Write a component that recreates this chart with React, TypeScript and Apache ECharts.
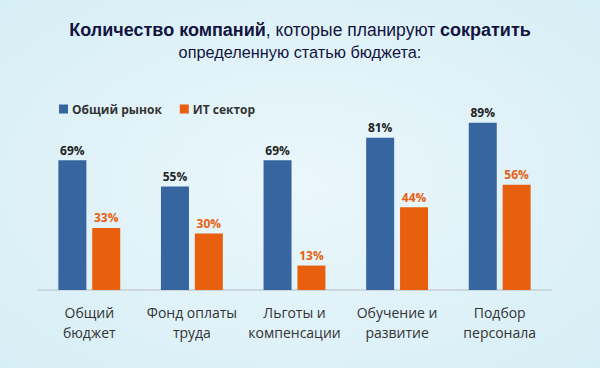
import React, { useEffect, useRef } from "react";
import * as echarts from "echarts";

const categories = [
  "Общий\nбюджет",
  "Фонд оплаты\nтруда",
  "Льготы и\nкомпенсации",
  "Обучение и\nразвитие",
  "Подбор\nперсонала",
];
const seriesNames = ["Общий рынок", "ИТ сектор"];
const marketValues = [69, 55, 69, 81, 89];
const itValues = [33, 30, 13, 44, 56];

export default function App() {
  const ref = useRef<HTMLDivElement>(null);
  useEffect(() => {
    if (!ref.current) return;
    const chart = echarts.init(ref.current, undefined, { renderer: "svg" });
    const font = "'Open Sans', 'Noto Sans', sans-serif";
    const tfont = "'Liberation Sans', Arial, sans-serif";
    chart.setOption({
      animation: false,
      backgroundColor: {
        type: "radial",
        x: 0.5,
        y: 0.5,
        r: 0.8,
        colorStops: [
          { offset: 0, color: "#eaf7fb" },
          { offset: 1, color: "#d4edf5" },
        ],
      },
      title: [
        {
          text: "{b|Количество компаний}{n|, которые планируют }{b|сократить}",
          left: "center",
          top: 16,
          textStyle: {
            rich: {
              b: { fontFamily: tfont, fontSize: 18, fontWeight: "bold", color: "#13143f" },
              n: { fontFamily: tfont, fontSize: 17.5, fontWeight: "normal", color: "#13143f" },
            },
          },
        },
        {
          text: "определенную статью бюджета:",
          left: "center",
          top: 39,
          textStyle: { fontFamily: tfont, fontSize: 16.3, fontWeight: "normal", color: "#13143f" },
        },
      ],
      legend: {
        data: seriesNames,
        left: 54,
        top: 98,
        icon: "rect",
        itemWidth: 9,
        itemHeight: 9,
        itemGap: 18,
        textStyle: { fontFamily: font, fontSize: 12, fontWeight: "bold", color: "#333", padding: [0, 0, 0, -1] },
      },
      grid: { left: 38, right: 49, top: 102, bottom: 78, containLabel: false },
      xAxis: {
        type: "category",
        data: categories,
        axisLine: { lineStyle: { color: "#c5ced3", width: 1.5 } },
        axisTick: { show: false },
        axisLabel: { fontFamily: font, fontSize: 14, color: "#333", lineHeight: 20, margin: 12, interval: 0 },
      },
      yAxis: { type: "value", min: 0, max: 100, show: false, splitLine: { show: false } },
      series: [
        {
          name: seriesNames[0],
          type: "bar",
          data: marketValues,
          barWidth: 28,
          barGap: "21%",
          itemStyle: { color: "#3765a0" },
          label: { show: true, position: "top", distance: 4, formatter: "{c}%", fontFamily: font, fontSize: 12, fontWeight: "bold", color: "#222" },
        },
        {
          name: seriesNames[1],
          type: "bar",
          data: itValues,
          barWidth: 28,
          itemStyle: { color: "#e8600e" },
          label: { show: true, position: "top", distance: 4, formatter: "{c}%", fontFamily: font, fontSize: 12, fontWeight: "bold", color: "#e8600e" },
        },
      ],
    });
    return () => chart.dispose();
  }, []);
  return <div ref={ref} style={{ position: "absolute", left: 0, top: 0, width: 600, height: 368 }} />;
}
